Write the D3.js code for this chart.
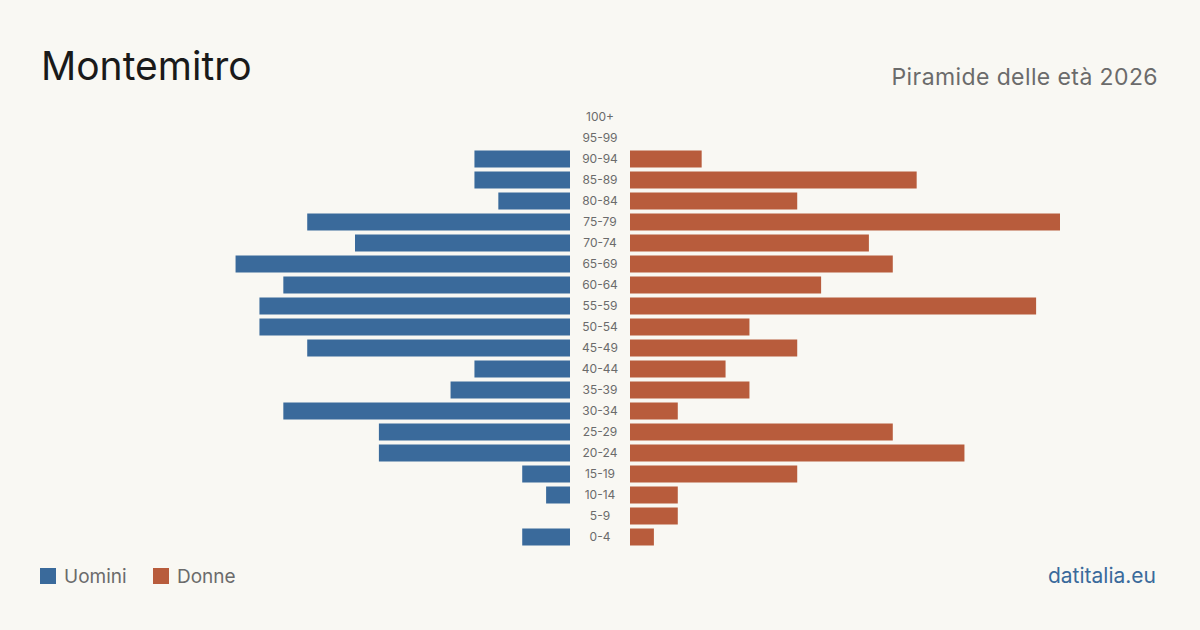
<!DOCTYPE html>
<html>
<head>
<meta charset="UTF-8">
<title>Montemitro - Piramide delle età 2026</title>
<style>
  body { margin: 0; background: #f9f8f3; }
  svg { display: block; font-family: "Inter", "Noto Sans", sans-serif; }
</style>
</head>
<body>
<svg id="chart"></svg>
<script src="https://d3js.org/d3.v7.min.js"></script>
<script>
const width = 1200, height = 630;

// age classes, top to bottom
const ageGroups = ["100+", "95-99", "90-94", "85-89", "80-84", "75-79", "70-74", "65-69", "60-64",
  "55-59", "50-54", "45-49", "40-44", "35-39", "30-34", "25-29", "20-24", "15-19", "10-14", "5-9", "0-4"];
const men   = [0, 0, 4, 4, 3, 11, 9, 14, 12, 13, 13, 11, 4, 5, 12, 8, 8, 2, 1, 0, 2];
const women = [0, 0, 3, 12, 7, 18, 10, 11, 8, 17, 5, 7, 4, 5, 2, 11, 14, 7, 2, 2, 1];
const legendItems = ["Uomini", "Donne"];

const blue = "#3a6a9b", orange = "#b85c3c";

const svg = d3.select("#chart").attr("width", width).attr("height", height);
svg.append("rect").attr("width", width).attr("height", height).attr("fill", "#f9f8f3");

// title
svg.append("text").attr("x", 41).attr("y", 80)
  .attr("font-size", 39).attr("fill", "#1a1a1a").text("Montemitro");
svg.append("text").attr("x", 1158).attr("y", 85).attr("text-anchor", "end")
  .attr("font-size", 23).attr("letter-spacing", 0.4).attr("fill", "#6b6b6b").text("Piramide delle età 2026");

const y = d3.scaleBand().domain(ageGroups).range([106.5, 547.5])
  .paddingInner(4 / 21).paddingOuter(2 / 21);
const xMen = d3.scaleLinear().domain([0, 18]).range([570, 140]);
const xWomen = d3.scaleLinear().domain([0, 18]).range([630, 1060]);

const rows = ageGroups.map((a, i) => ({ age: a, m: men[i], f: women[i] }));

svg.append("g").selectAll("rect").data(rows.filter(d => d.m > 0)).enter()
  .append("rect")
  .attr("x", d => xMen(d.m)).attr("y", d => y(d.age))
  .attr("width", d => xMen(0) - xMen(d.m)).attr("height", y.bandwidth())
  .attr("fill", blue);

svg.append("g").selectAll("rect").data(rows.filter(d => d.f > 0)).enter()
  .append("rect")
  .attr("x", xWomen(0)).attr("y", d => y(d.age))
  .attr("width", d => xWomen(d.f) - xWomen(0)).attr("height", y.bandwidth())
  .attr("fill", orange);

svg.append("g").selectAll("text").data(ageGroups).enter()
  .append("text")
  .attr("x", 600).attr("y", d => y(d) + y.bandwidth() / 2)
  .attr("dy", "0.35em").attr("text-anchor", "middle")
  .attr("font-size", 12).attr("fill", "#6b6b6b")
  .text(d => d);

// legend
const lg = svg.append("g");
const legendX = [40, 153];
legendItems.forEach((name, i) => {
  lg.append("rect").attr("x", legendX[i]).attr("y", 568).attr("width", 16).attr("height", 16)
    .attr("fill", i === 0 ? blue : orange);
  lg.append("text").attr("x", legendX[i] + 24).attr("y", 583)
    .attr("font-size", 19).attr("fill", "#6b6b6b").text(name);
});

svg.append("text").attr("x", 1156).attr("y", 583).attr("text-anchor", "end")
  .attr("font-size", 21).attr("fill", blue).text("datitalia.eu");
</script>
</body>
</html>
